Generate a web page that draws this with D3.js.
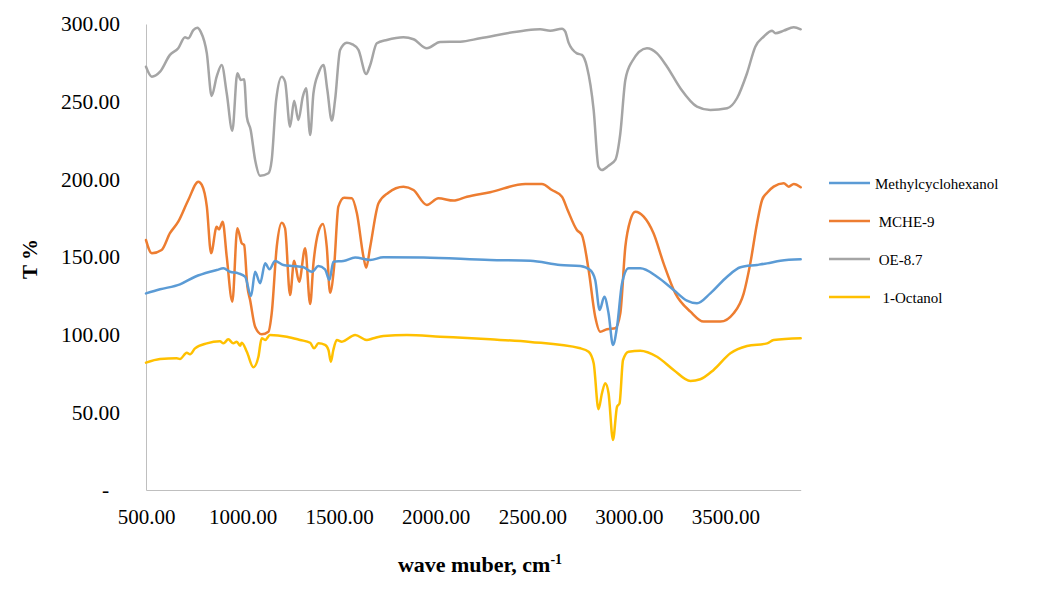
<!DOCTYPE html>
<html>
<head>
<meta charset="utf-8">
<script src="https://cdn.jsdelivr.net/npm/d3@7"></script>
<style>
  html, body { margin: 0; padding: 0; background: #fff; }
  svg { display: block; }
  text { font-family: "Liberation Serif", "Times New Roman", serif; fill: #000; }
</style>
</head>
<body>
<svg id="chart" width="1042" height="591"></svg>
<script>
// ---- data (wavenumber cm-1, T %) ----
const seriesNames = ["Methylcyclohexanol", " MCHE-9", " OE-8.7", "  1-Octanol"];
const seriesColors = ["#5B9BD5", "#ED7D31", "#A5A5A5", "#FFC000"];
const xTicks = [500, 1000, 1500, 2000, 2500, 3000, 3500];
const yTicks = [0, 50, 100, 150, 200, 250, 300];

const methylcyclohexanol = [
  [500,126.6],[573,129.2],[676,132.4],[754,137.3],[832,140.5],[866,141.6],[901,142.7],[935,140.5],
  [978,139.5],[1013,137.3],[1044,124.9],[1065,140.5],[1091,133.1],[1117,145.9],[1139,142.1],[1168,147.4],
  [1211,144.9],[1263,144.2],[1315,143.4],[1359,140.5],[1393,144.2],[1427,142.1],[1450,135.2],[1470,147],
  [1522,147.4],[1583,149.6],[1661,148.1],[1729,149.8],[1937,149.6],[2282,148.1],[2490,147.6],[2645,144.9],
  [2749,144.2],[2800,141.6],[2826,135.2],[2849,115.9],[2873,124.4],[2895,113.8],[2918,93.4],[2939,105.1],
  [2965,133.1],[2999,142.7],[3059,142.7],[3146,137.3],[3232,128.8],[3301,121.9],[3353,120.2],[3422,126.6],
  [3509,137.3],[3578,143.4],[3664,144.9],[3716,145.9],[3785,147.6],[3890,148.5]
];
const mche9 = [
  [500,160.9],[530,152.4],[581,154.5],[624,165.3],[667,172.7],[719,186.7],[771,198.5],[789,196.4],
  [815,182.4],[837,152.4],[866,169.5],[878,167.8],[897,172.7],[918,150.2],[947,121.2],[973,168.5],
  [996,158.8],[1008,157.7],[1025,130.9],[1039,122.3],[1065,105.1],[1099,100.2],[1134,101.9],[1151,113.8],
  [1177,156.6],[1203,172.1],[1220,168.5],[1246,125.5],[1267,147.6],[1293,134.1],[1324,155.6],[1350,119.7],
  [1367,145.9],[1393,166.3],[1416,171.3],[1436,156.6],[1453,127],[1474,143.8],[1496,182.4],[1526,188.2],
  [1566,187.8],[1592,178.1],[1626,150.2],[1640,143.1],[1661,156.6],[1704,184.6],[1755,191.4],[1833,195.3],
  [1885,193.1],[1954,183.5],[2014,187.8],[2092,186.3],[2162,188.8],[2282,191.7],[2464,197],[2550,197],
  [2602,193.1],[2654,188.8],[2683,180.3],[2731,167.4],[2757,164.2],[2792,141.6],[2826,111.6],[2852,101.9],
  [2887,103.5],[2930,104.1],[2956,113.8],[2982,156.6],[3008,173.8],[3034,179.2],[3077,176],[3128,165.3],
  [3180,145.9],[3241,126.6],[3319,114.8],[3387,108.4],[3474,108.4],[3543,113.8],[3595,126.6],[3629,145.9],
  [3664,171.7],[3690,186.7],[3716,191.4],[3750,195.3],[3802,197.5],[3828,195.3],[3854,197],[3890,194.9]
];
const oe87 = [
  [500,272.5],[530,266.1],[573,269.3],[624,280.1],[667,284.4],[702,291.4],[719,290.8],[745,296.1],
  [766,297.6],[783,295.1],[815,281.1],[840,253.7],[866,266.1],[892,273.6],[918,255.4],[947,231.3],
  [973,268.3],[991,264],[1008,264.4],[1022,240.3],[1042,231.8],[1065,212.5],[1091,202.3],[1134,203.9],
  [1151,212.5],[1174,251.1],[1203,266.1],[1220,262.9],[1246,233.9],[1267,250.6],[1289,238.2],[1312,253.2],
  [1329,258.6],[1350,228.5],[1367,255.4],[1393,268.3],[1419,273.6],[1439,257.5],[1462,237.8],[1479,251.1],
  [1505,283.3],[1540,288],[1566,287.1],[1600,283.3],[1640,267.8],[1661,273.6],[1695,287.6],[1747,289.7],
  [1833,291.4],[1885,290.2],[1954,284.4],[2023,288.4],[2127,288.6],[2230,290.8],[2455,295.7],[2541,296.6],
  [2593,295.7],[2654,297],[2671,295.1],[2688,288],[2731,281.1],[2757,280.1],[2783,272.5],[2818,244.6],
  [2843,208.1],[2861,206],[2895,208.8],[2930,212.5],[2956,229.6],[2982,264],[3016,275.7],[3094,284.4],
  [3146,281.1],[3198,272.5],[3267,258.6],[3353,246.8],[3422,244.6],[3509,245.7],[3560,252.2],[3612,268.3],
  [3655,285.4],[3698,291.8],[3742,295.7],[3759,294],[3802,295.7],[3854,297.9],[3890,296.6]
];
const octanol = [
  [500,82],[573,84.3],[659,84.8],[676,84.3],[711,88.4],[728,87.4],[754,91.2],[815,94.4],
  [883,95.7],[901,94.4],[926,97],[952,94.4],[970,95.5],[987,92.9],[996,94.8],[1022,89],
  [1056,79],[1082,85.8],[1099,97.7],[1117,96.6],[1142,99.8],[1229,98.7],[1298,96.6],[1350,94.8],
  [1370,91.2],[1393,94.4],[1427,93.4],[1445,90.1],[1457,82.6],[1470,90.1],[1488,96.6],[1514,95.5],
  [1583,99.8],[1643,96.6],[1678,97.7],[1729,99.1],[1851,99.8],[2023,98.7],[2282,97],[2490,95.3],
  [2749,91.2],[2792,89],[2818,81.6],[2843,52],[2861,62.3],[2878,68.7],[2895,62.3],[2918,32.2],
  [2939,53.6],[2952,55.8],[2970,83.7],[2999,89],[3059,89.7],[3146,85.8],[3232,77.3],[3319,70.2],
  [3370,71.3],[3439,77.3],[3526,88],[3612,92.7],[3716,94.4],[3750,96.6],[3890,97.7]
];
const allSeries = [methylcyclohexanol, mche9, oe87, octanol];

// ---- drawing ----
const svg = d3.select("#chart");
svg.append("rect").attr("width", 1042).attr("height", 591).attr("fill", "#fff");

const x = d3.scaleLinear().domain([500, 3890]).range([146, 800.7]);
const y = d3.scaleLinear().domain([0, 300]).range([490, 24]);

// axes
const yAxis = d3.axisLeft(y).tickValues(yTicks).tickSize(0).tickPadding(26)
  .tickFormat(d => d === 0 ? "-  " : d3.format(".2f")(d));
const gy = svg.append("g").attr("transform", "translate(146,0)").call(yAxis);
gy.select(".domain").attr("stroke", "#BFBFBF").attr("stroke-width", 1);
gy.selectAll("text").style("font-family", '"Liberation Serif", serif').style("font-size", "21.5px")
  .style("white-space", "pre").attr("fill", "#000");

const xAxis = d3.axisBottom(x).tickValues(xTicks).tickSize(0).tickPadding(19)
  .tickFormat(d3.format(".2f"));
const gx = svg.append("g").attr("transform", "translate(0,490)").call(xAxis);
gx.select(".domain").attr("stroke", "#BFBFBF").attr("stroke-width", 1);
gx.selectAll("text").style("font-family", '"Liberation Serif", serif').style("font-size", "21px").attr("fill", "#000");

// lines
const line = d3.line().x(d => x(d[0])).y(d => y(d[1])).curve(d3.curveMonotoneX);
const drawOrder = [2, 1, 0, 3];
drawOrder.forEach(i => {
  svg.append("path").datum(allSeries[i])
    .attr("fill", "none").attr("stroke", seriesColors[i])
    .attr("stroke-width", 2.5).attr("stroke-linejoin", "round").attr("stroke-linecap", "round")
    .attr("d", line);
});

// axis titles
svg.append("text").attr("transform", "translate(37,259) rotate(-90)")
  .attr("text-anchor", "middle").style("font-size", "21px").style("font-weight", "bold")
  .text("T %");

const xt = svg.append("text").attr("x", 480).attr("y", 572).attr("text-anchor", "middle")
  .style("font-size", "22px").style("font-weight", "bold");
xt.append("tspan").text("wave muber, cm");
xt.append("tspan").attr("dy", -8).style("font-size", "14px").text("-1");

// legend
const legend = svg.append("g");
seriesNames.forEach((name, i) => {
  const ly = 183 + i * 38;
  legend.append("line").attr("x1", 829).attr("x2", 870).attr("y1", ly).attr("y2", ly)
    .attr("stroke", seriesColors[i]).attr("stroke-width", 2.5);
  legend.append("text").attr("x", 875).attr("y", ly + 6).style("font-size", "15px")
    .style("white-space", "pre").text(name);
});
</script>
</body>
</html>
